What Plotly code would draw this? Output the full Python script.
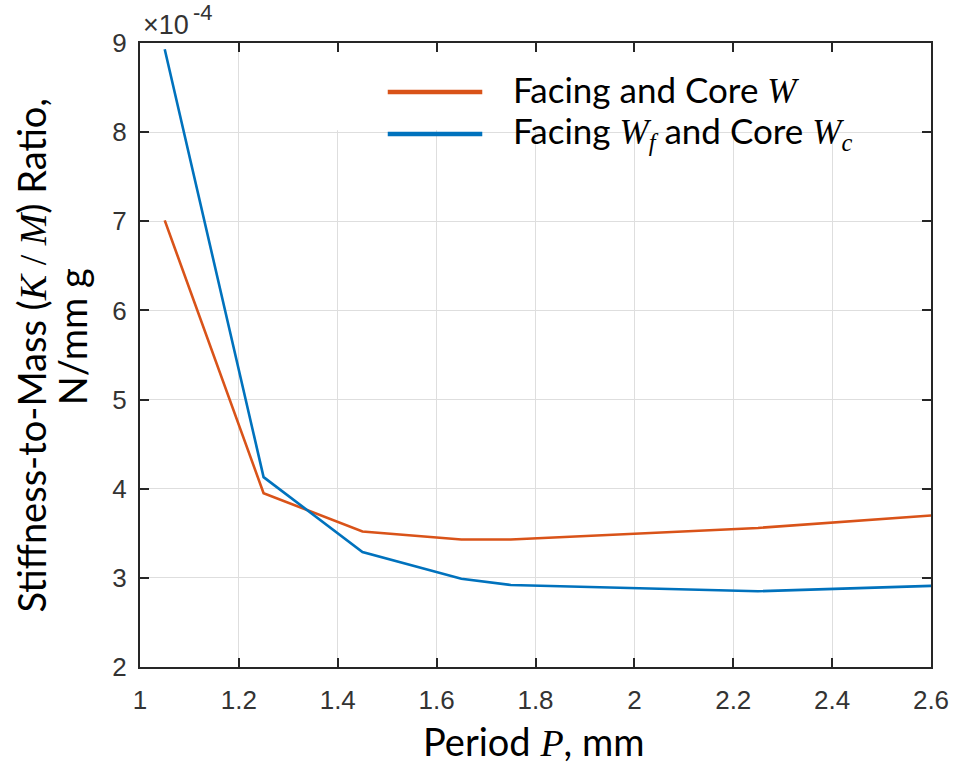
import plotly.graph_objects as go

# Period P (mm) at which each design was evaluated
period_mm = [1.05, 1.25, 1.45, 1.65, 1.75, 2.25, 2.6]

# Stiffness-to-mass ratio, in units of 1e-4 N/(mm g)
ratio_single_w = [7.01, 3.95, 3.52, 3.43, 3.43, 3.56, 3.70]
ratio_split_w = [8.93, 4.13, 3.29, 2.99, 2.92, 2.85, 2.91]

series_names = ["Facing and Core W", "Facing Wf and Core Wc"]
series_colors = ["#D95319", "#0072BD"]

x_ticks = [1, 1.2, 1.4, 1.6, 1.8, 2, 2.2, 2.4, 2.6]
x_tick_text = ["1", "1.2", "1.4", "1.6", "1.8", "2", "2.2", "2.4", "2.6"]
y_ticks = [2, 3, 4, 5, 6, 7, 8, 9]

TEXT_FONT = "Lato"
MATH = "font-family:'Liberation Serif'"
AX = "#262626"
TICK_GREY = "#333333"

fig = go.Figure()
for name, ys, color in zip(series_names, [ratio_single_w, ratio_split_w], series_colors):
    fig.add_trace(go.Scatter(x=period_mm, y=ys, mode="lines", name=name,
                             line=dict(color=color, width=2.6), showlegend=False))

axis_common = dict(
    showline=True, linewidth=2, linecolor=AX, mirror="ticks",
    ticks="inside", ticklen=9, tickwidth=2, tickcolor=AX,
    showgrid=True, gridcolor="#dedede", gridwidth=1, zeroline=False,
    tickfont=dict(family="Liberation Sans", size=26, color=TICK_GREY),
)
fig.update_xaxes(range=[1, 2.6], tickvals=x_ticks, ticktext=x_tick_text,
                 ticklabelstandoff=9, **axis_common)
fig.update_yaxes(range=[2, 9], tickvals=y_ticks, ticklabelstandoff=6, **axis_common)

# Legend box: white panel above the grid, below the curves
fig.add_shape(type="rect", xref="x", yref="y", x0=1.3886, x1=2.5985,
              y0=8.02, y1=8.99, fillcolor="white", line=dict(width=0), layer="between")

legend_rows = [
    (f"Facing and Core <span style=\"{MATH}\"><i>W</i></span>", 92),
    (f"Facing <span style=\"{MATH}\"><i>W<sub>f</sub></i></span> and Core "
     f"<span style=\"{MATH}\"><i>W<sub>c</sub></i></span>", 134),
]
x_px = lambda px: (px - 140) / 795
y_px = lambda py: (667 - py) / 624
for (label, py), color in zip(legend_rows, series_colors):
    fig.add_shape(type="line", xref="paper", yref="paper", x0=x_px(389), x1=x_px(484),
                  y0=y_px(py), y1=y_px(py), line=dict(color=color, width=4.5))
    fig.add_annotation(xref="paper", yref="paper", x=x_px(513), y=y_px(py - 2),
                       xanchor="left", yanchor="middle", showarrow=False, text=label,
                       font=dict(family=TEXT_FONT, size=35, color="black"))

# Exponent label at the top of the y axis
fig.add_annotation(xref="paper", yref="paper", x=x_px(141), y=y_px(25),
                   xanchor="left", yanchor="middle", showarrow=False, text="\u00d710",
                   font=dict(family="Liberation Sans", size=27, color=TICK_GREY))
fig.add_annotation(xref="paper", yref="paper", x=x_px(191), y=y_px(13),
                   xanchor="left", yanchor="middle", showarrow=False, text="-4",
                   font=dict(family="Liberation Sans", size=22, color=TICK_GREY))

# Axis titles
fig.add_annotation(xref="paper", yref="paper", x=x_px(535), y=y_px(741),
                   xanchor="center", yanchor="middle", showarrow=False,
                   text=f"Period <span style=\"{MATH}\"><i>P</i></span>, mm",
                   font=dict(family=TEXT_FONT, size=38, color="black"))
fig.add_annotation(xref="paper", yref="paper", x=x_px(30), y=y_px(355),
                   xanchor="center", yanchor="middle", showarrow=False, textangle=-90,
                   text=f"Stiffness-to-Mass (<span style=\"{MATH}\"><i>K</i> / <i>M</i></span>) Ratio,",
                   font=dict(family=TEXT_FONT, size=38, color="black"))
fig.add_annotation(xref="paper", yref="paper", x=x_px(72), y=y_px(337),
                   xanchor="center", yanchor="middle", showarrow=False, textangle=-90,
                   text="N/mm g",
                   font=dict(family=TEXT_FONT, size=38, color="black"))

fig.update_layout(
    width=961, height=782,
    margin=dict(l=140, r=26, t=43, b=115),
    paper_bgcolor="white", plot_bgcolor="white",
)

fig.write_html("out.html")
